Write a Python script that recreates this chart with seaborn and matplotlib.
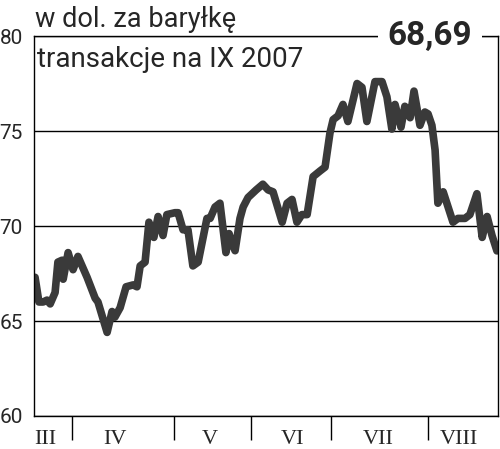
"""Cena ropy - wykres notowan (transakcje na IX 2007)."""

import matplotlib
matplotlib.use("Agg")
import matplotlib.pyplot as plt
import pandas as pd
import seaborn as sns

# numer sesji (os X) i cena w dol. za barylke
sessions = [
    0.3, 1.4, 2.6, 3.7, 4.6, 6.0, 6.8, 8.0, 8.3, 9.7, 11.1, 12.5, 15.1, 17.4,
    18.2, 20.8, 22.2, 23.0, 24.5, 26.2, 28.2, 29.3, 30.2, 31.6, 32.7, 34.1,
    35.3, 36.7, 37.8, 40.1, 41.0, 42.4, 43.8, 45.2, 46.7, 49.2, 50.1, 51.5,
    52.9, 54.6, 55.5, 56.3, 57.2, 58.6, 59.5, 60.9, 63.2, 65.1, 66.6, 68.0,
    70.6, 72.0, 73.4, 74.8, 76.2, 77.7, 79.4, 81.4, 82.8, 84.2, 85.1, 86.5,
    87.9, 89.3, 91.9, 93.3, 94.7, 97.0, 99.0, 100.4, 101.8, 102.7, 104.4,
    105.5, 107.0, 108.1, 109.8, 111.2, 112.1, 113.2, 114.1, 114.9, 116.4,
    119.2, 120.6, 122.6, 124.0, 126.0, 127.5, 128.9, 130.3, 131.7,
]
prices = [
    67.3, 66.0, 66.0, 66.1, 65.9, 66.5, 68.1, 68.2, 67.2, 68.6, 67.7, 68.4,
    67.3, 66.2, 66.0, 64.4, 65.5, 65.2, 65.7, 66.8, 66.9, 66.8, 67.9, 68.1,
    70.2, 69.4, 70.5, 69.5, 70.6, 70.7, 70.7, 69.8, 69.8, 67.9, 68.1, 70.4,
    70.4, 71.0, 71.2, 68.6, 69.6, 69.1, 68.7, 70.4, 71.0, 71.5, 71.9, 72.2,
    71.9, 71.8, 70.2, 71.2, 71.4, 70.2, 70.6, 70.6, 72.6, 72.9, 73.1, 74.9,
    75.6, 75.8, 76.4, 75.5, 77.5, 77.3, 75.5, 77.6, 77.6, 76.8, 75.1, 76.4,
    75.2, 76.3, 75.7, 77.1, 75.3, 76.0, 75.9, 75.3, 74.0, 71.2, 71.8, 70.2,
    70.4, 70.4, 70.6, 71.7, 69.4, 70.5, 69.5, 68.69,
]

month_labels = ["III", "IV", "V", "VI", "VII", "VIII"]
month_centers = [3.1, 23.0, 50.0, 73.4, 97.9, 121.0]
month_bounds = [10.8, 39.8, 61.7, 84.5, 112.1]
y_ticks = [60, 65, 70, 75, 80]
last_value = "68,69"

sns.set_style("white")
plt.rcParams["font.family"] = ["Roboto", "DejaVu Sans"]

df = pd.DataFrame({"sesja": sessions, "cena": prices})

fig = plt.figure(figsize=(5.0, 4.49), dpi=100)
ax = fig.add_axes([0.068, 0.0735, 0.928, 0.8463])

sns.lineplot(data=df, x="sesja", y="cena", ax=ax, color="#3a3a3a",
             linewidth=5.5, solid_joinstyle="round", solid_capstyle="round")

ax.set_xlim(0, 132)
ax.set_ylim(60, 80)
ax.set_yticks(y_ticks)
ax.set_yticklabels([str(v) for v in y_ticks], fontsize=15)
ax.yaxis.grid(True, color="black", linewidth=1)
ax.set_axisbelow(True)
ax.tick_params(axis="y", length=0, pad=8)

ax.set_xticks(month_centers)
ax.set_xticklabels(month_labels, family="Liberation Serif", fontsize=16)
ax.set_xticks(month_bounds, minor=True)
ax.tick_params(axis="x", which="major", length=0, pad=10)
ax.tick_params(axis="x", which="minor", length=17, width=1, color="black",
               direction="out", bottom=True)

for side in ["left", "right", "bottom", "top"]:
    ax.spines[side].set_color("black")
    ax.spines[side].set_linewidth(1)

ax.set_xlabel("")
ax.set_ylabel("")

ax.text(0.853, 1.0, last_value, transform=ax.transAxes, ha="center",
        va="center", fontsize=24, fontweight="bold", zorder=5,
        bbox=dict(facecolor="white", edgecolor="none", pad=7))
ax.text(0.006, 0.918, "transakcje na IX 2007", transform=ax.transAxes,
        ha="left", va="baseline", fontsize=20)
fig.text(0.07, 0.94, "w dol. za baryłkę", ha="left", va="baseline",
         fontsize=19.5)

plt.savefig("out.png", dpi=100)
plt.close(fig)
